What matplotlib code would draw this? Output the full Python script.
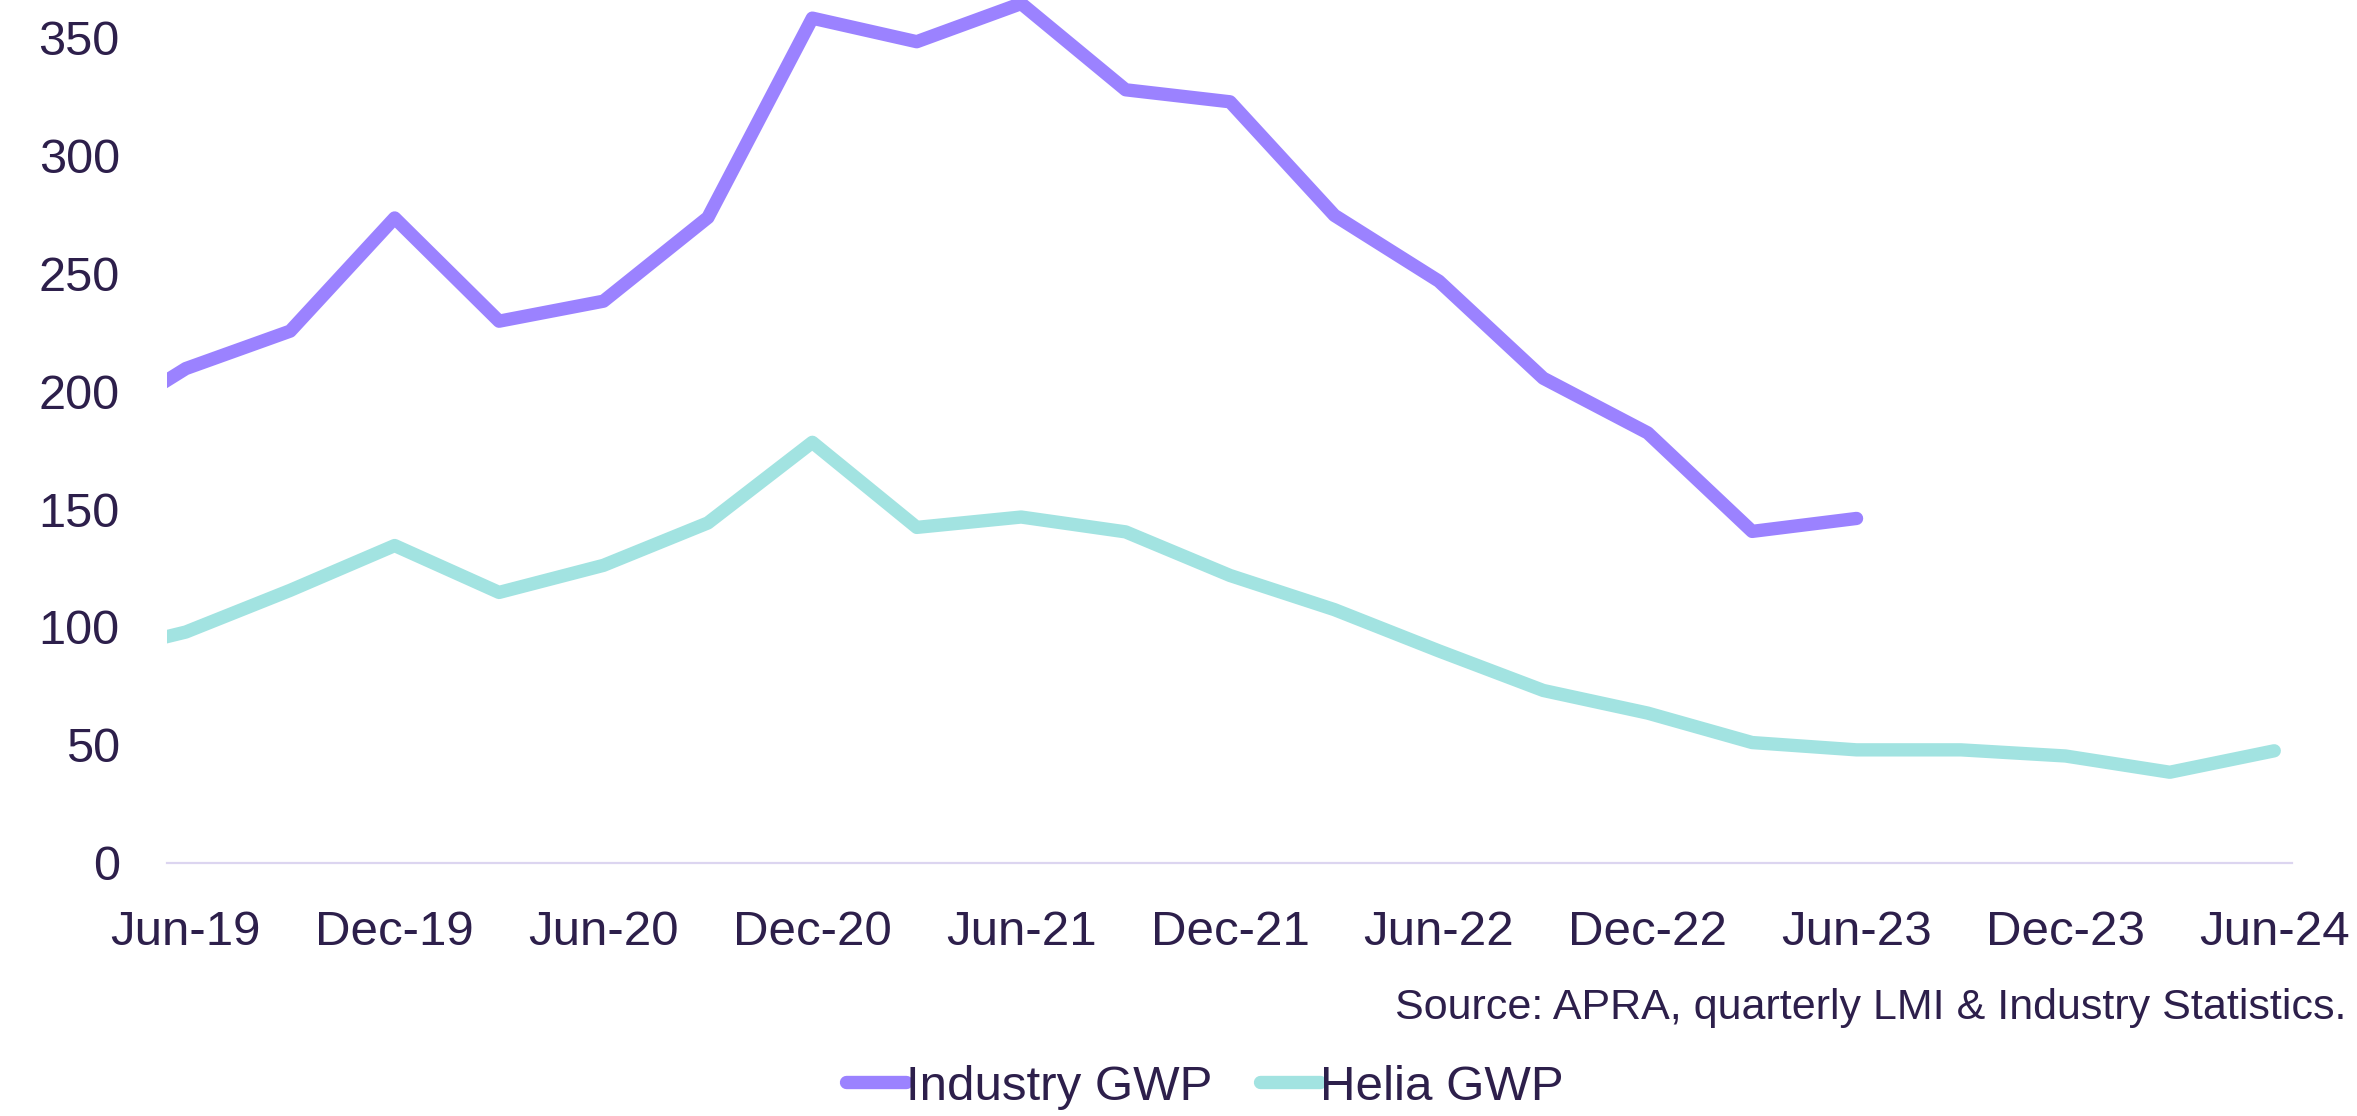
import numpy as np
import matplotlib
matplotlib.use('Agg')
import matplotlib.pyplot as plt

# quarterly GWP ($m)
quarters = ['Mar-19', 'Jun-19', 'Sep-19', 'Dec-19', 'Mar-20', 'Jun-20', 'Sep-20', 'Dec-20',
            'Mar-21', 'Jun-21', 'Sep-21', 'Dec-21', 'Mar-22', 'Jun-22', 'Sep-22', 'Dec-22',
            'Mar-23', 'Jun-23', 'Sep-23', 'Dec-23', 'Mar-24', 'Jun-24']
industry = [182, 209.6, 225.5, 273.5, 229.7, 238.2, 273.7, 358.3, 348.3, 364.5, 327.9,
            322.8, 274.6, 246.7, 205.5, 182.3, 140.5, 146.0]
helia = [87, 97.8, 115.5, 134.5, 114.6, 126.1, 144.1, 178.3, 142.2, 146.6, 140.3,
         121.8, 107.3, 89.8, 73.0, 63.4, 50.9, 47.8, 47.8, 45.2, 38.3, 47.4]
yticks = [0, 50, 100, 150, 200, 250, 300, 350]
source = 'Source: APRA, quarterly LMI & Industry Statistics.'

ink = '#2D1F4B'
purple = '#9B82FF'
teal = '#A2E3E1'

plt.rcParams['font.family'] = ['Liberation Sans', 'DejaVu Sans']

fig = plt.figure(figsize=(23.57, 11.16), dpi=100)
ax = fig.add_axes([167/2357, 253.5/1116, (2292-167)/2357, 862.5/1116])

x = np.arange(len(quarters))
ax.plot(x[:len(industry)], industry, color=purple, lw=9.6, solid_capstyle='round',
        solid_joinstyle='round', label='Industry GWP')
ax.plot(x, helia, color=teal, lw=9.6, solid_capstyle='round',
        solid_joinstyle='round', label='Helia GWP')

ax.set_xlim(0.82, 21.17)
ax.set_ylim(0, 366)

for s in ['top', 'right', 'left']:
    ax.spines[s].set_visible(False)
ax.spines['bottom'].set_color('#DCD5F0')
ax.spines['bottom'].set_linewidth(1.6)

ax.set_xticks(x[1::2])
ax.set_xticklabels(quarters[1::2], fontsize=35.5, color=ink)
ax.set_yticks(yticks)
ax.set_yticklabels([str(v) for v in yticks], fontsize=35, color=ink)
ax.tick_params(axis='x', length=0, pad=34)
ax.tick_params(axis='y', length=0, pad=34)

fig.text(2346/2357, 1-1008/1116, source, ha='right', va='center', fontsize=31,
         color=ink)

leg = fig.legend(loc='center', bbox_to_anchor=(1205/2357, 29/1116), ncol=2, frameon=False,
                 fontsize=35.5, handlelength=1.22, handletextpad=0.0, columnspacing=0.96,
                 borderpad=0)
for t in leg.get_texts():
    t.set_color(ink)

fig.savefig('out.png', dpi=100)
